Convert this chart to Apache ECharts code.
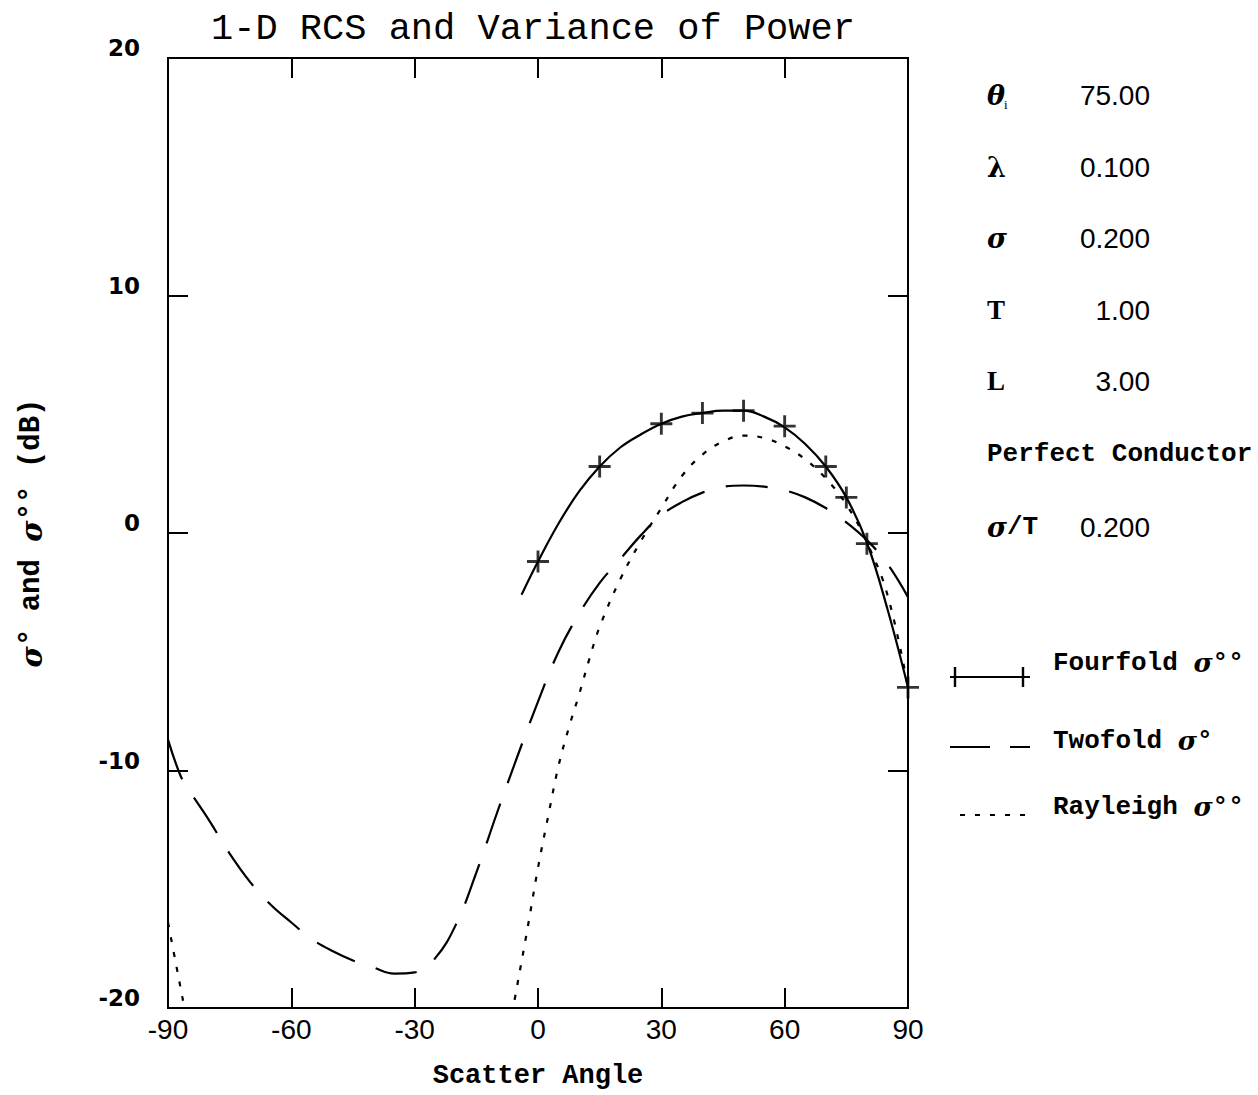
<!DOCTYPE html>
<html>
<head>
<meta charset="utf-8">
<script src="https://cdn.jsdelivr.net/npm/echarts@6/dist/echarts.min.js"></script>
<style>
html,body{margin:0;padding:0;background:#fff;}
#chart{width:1258px;height:1095px;}
</style>
</head>
<body>
<div id="chart"></div>
<script>
// ---- tick labels ----
const xTicks = [-90, -60, -30, 0, 30, 60, 90];
const yTicks = [-20, -10, 0, 10, 20];

// ---- series names ----
const seriesNames = ['Fourfold σ°°', 'Twofold σ°', 'Rayleigh σ°°'];

// ---- Fourfold sigma°° (solid line) ----
const angleFour = [-4, 0, 5, 10, 15, 20, 25, 30, 35, 40, 45, 50, 55, 60, 65, 70, 75, 80, 85, 90];
const fourfold  = [-2.6, -1.2, 0.4, 1.75, 2.8, 3.6, 4.15, 4.6, 4.9, 5.05, 5.15, 5.15, 4.9, 4.45, 3.75, 2.8, 1.5, -0.4, -3.2, -6.5];
// marker positions (+)
const angleFourMark = [0, 15, 30, 40, 50, 60, 70, 75, 80, 90];
const fourfoldMark  = [-1.2, 2.8, 4.6, 5.05, 5.15, 4.5, 2.8, 1.5, -0.45, -6.5];

// ---- Twofold sigma° (dashed line) ----
const angleTwo = [-90, -87, -85, -80, -75, -70, -65, -60, -55, -50, -45, -40, -35, -30, -25, -20, -15, -10, -5, 0, 5, 10, 15, 20, 25, 30, 35, 40, 45, 50, 55, 60, 65, 70, 75, 80, 85, 90];
const twofold  = [-8.7, -10.2, -10.8, -12.1, -13.5, -14.7, -15.65, -16.4, -17.1, -17.6, -18.0, -18.3, -18.55, -18.5, -17.9, -16.5, -14.3, -11.8, -9.4, -7.1, -5.0, -3.4, -2.1, -1.1, -0.1, 0.75, 1.3, 1.7, 1.95, 2.0, 1.95, 1.8, 1.5, 1.05, 0.45, -0.3, -1.3, -2.7];

// ---- Rayleigh sigma°° (dotted line), two visible pieces ----
const angleRayLeft = [-90, -88, -86, -85];
const rayleighLeft = [-16.4, -18.2, -20.0, -20.9];
const angleRay = [-7, -5, -2.5, 0, 2.5, 5, 7.5, 10, 12.5, 15, 20, 25, 30, 35, 40, 45, 50, 55, 60, 65, 70, 75, 80, 85, 90];
const rayleigh = [-20.9, -19.0, -16.6, -14.1, -11.9, -9.8, -8.2, -6.8, -5.3, -3.95, -1.95, -0.35, 1.05, 2.4, 3.3, 3.85, 4.1, 4.0, 3.65, 3.1, 2.3, 1.2, -0.4, -2.6, -6.5];

// ---- parameter panel ----
const paramLabels = ['θ', 'λ', 'σ', 'T', 'L'];
const paramValues = ['75.00', '0.100', '0.200', '1.00', '3.00'];
const materialText = 'Perfect Conductor';
const ratioLabel = 'σ/T';
const ratioValue = '0.200';

function pairs(xs, ys) { return xs.map((x, i) => [x, ys[i]]); }

const MONO = 'Liberation Mono';
const PLUS = 'path://M8.7,0H11.3V8.7H20V11.3H11.3V20H8.7V11.3H0V8.7H8.7Z';
const BOX = 'M0,0h0.1v0.1h-0.1Z M79.9,47.9h0.1v0.1h-0.1Z ';
const ICON_FOUR = 'path://' + BOX + 'M0,37H80V39H0Z M3.8,28H6.2V48H3.8Z M71.8,28H74.2V48H71.8Z';
const ICON_TWO = 'path://' + BOX + 'M0,29H40V31H0Z M60,29H80V31H60Z';
const ICON_RAY = 'path://' + BOX + 'M10,31H15V33H10Z M25,31H30V33H25Z M40,31H45V33H40Z M55,31H60V33H55Z M70,31H75V33H70Z';

const legendText = {
  fontFamily: MONO, fontSize: 26, fontWeight: 'bold', color: '#000', padding: [0, 0, 0, 18],
  rich: { g: { fontFamily: 'DejaVu Serif', fontStyle: 'italic', fontWeight: 'bold', fontSize: 26, color: '#000' } }
};
function legendFmt(name) { return name.replace('σ', '{g|σ}'); }
function mkLegend(i, icon, textCenterY) {
  return {
    data: [{ name: seriesNames[i], icon: icon }],
    left: 950, top: textCenterY - 24, padding: 0,
    itemWidth: 80, itemHeight: 48, selectedMode: false,
    textStyle: legendText, formatter: legendFmt
  };
}

const chart = echarts.init(document.getElementById('chart'), null, { renderer: 'svg' });

const axisCommon = {
  type: 'value',
  axisLine: { show: true, onZero: false, lineStyle: { color: '#000', width: 2 } },
  axisTick: { show: true, inside: true, length: 20, lineStyle: { color: '#000', width: 2 } },
  splitLine: { show: false }
};

const panelGraphics = [];
const panelY = [95, 167, 238, 310, 381];
paramLabels.forEach((lab, i) => {
  const greek = (lab === 'θ' || lab === 'σ');
  panelGraphics.push({
    type: 'text', x: 987, y: panelY[i],
    style: {
      text: lab, x: 0, y: 0, fill: '#000',
      font: (greek ? 'italic bold 27px "DejaVu Serif"' : (lab === 'λ' ? 'bold 27px "DejaVu Serif"' : 'bold 27px "Liberation Serif"')),
      align: 'left', verticalAlign: 'middle'
    }
  });
  panelGraphics.push({
    type: 'text', x: 1150, y: panelY[i],
    style: { text: paramValues[i], x: 0, y: 0, fill: '#000', font: '28px "Liberation Sans"', align: 'right', verticalAlign: 'middle' }
  });
});
panelGraphics.push({
  type: 'text', x: 1004, y: panelY[0] + 9,
  style: { text: 'i', x: 0, y: 0, fill: '#000', font: '13px "Liberation Serif"', align: 'left', verticalAlign: 'middle' }
});
panelGraphics.push({
  type: 'text', x: 987, y: 454,
  style: { text: materialText, x: 0, y: 0, fill: '#000', font: 'bold 26px "Liberation Mono"', align: 'left', verticalAlign: 'middle' }
});
panelGraphics.push({
  type: 'text', x: 987, y: 527,
  style: {
    text: '{g|σ}{m|/T}', x: 0, y: 0, fill: '#000', align: 'left', verticalAlign: 'middle',
    rich: {
      g: { fontFamily: 'DejaVu Serif', fontStyle: 'italic', fontWeight: 'bold', fontSize: 27, fill: '#000' },
      m: { fontFamily: MONO, fontWeight: 'bold', fontSize: 26, fill: '#000' }
    }
  }
});
panelGraphics.push({
  type: 'text', x: 1150, y: 527,
  style: { text: ratioValue, x: 0, y: 0, fill: '#000', font: '28px "Liberation Sans"', align: 'right', verticalAlign: 'middle' }
});

const option = {
  animation: false,
  backgroundColor: '#fff',
  title: {
    text: '1-D RCS and Variance of Power',
    left: 211, top: 10, padding: 0,
    textStyle: { fontFamily: MONO, fontSize: 37, fontWeight: 'normal', color: '#000' }
  },
  grid: { left: 168, right: 350, top: 58, bottom: 87, show: true, borderColor: '#000', borderWidth: 2, containLabel: false },
  xAxis: [
    Object.assign({}, axisCommon, {
      position: 'bottom',
      min: xTicks[0], max: xTicks[xTicks.length - 1], interval: xTicks[1] - xTicks[0],
      axisLabel: { show: true, margin: 7, color: '#000', fontFamily: 'Liberation Sans', fontSize: 28 },
      name: 'Scatter Angle', nameLocation: 'middle', nameGap: 54,
      nameTextStyle: { fontFamily: MONO, fontSize: 27, fontWeight: 'bold', color: '#000' }
    }),
    Object.assign({}, axisCommon, {
      position: 'top',
      min: xTicks[0], max: xTicks[xTicks.length - 1], interval: xTicks[1] - xTicks[0],
      axisLabel: { show: false }
    })
  ],
  yAxis: [
    Object.assign({}, axisCommon, {
      position: 'left',
      min: yTicks[0], max: yTicks[yTicks.length - 1], interval: yTicks[1] - yTicks[0],
      axisLabel: { show: true, margin: 28, color: '#000', fontFamily: 'DejaVu Sans', fontWeight: 'bold', fontSize: 23, verticalAlign: 'bottom', lineHeight: 20 },
      name: '{g|σ}° and {g|σ}°° (dB)', nameLocation: 'middle', nameGap: 122, nameRotate: 90,
      nameTextStyle: {
        fontFamily: MONO, fontSize: 29, fontWeight: 'bold', color: '#000',
        rich: { g: { fontFamily: 'DejaVu Serif', fontStyle: 'italic', fontWeight: 'bold', fontSize: 29, color: '#000' } }
      }
    }),
    Object.assign({}, axisCommon, {
      position: 'right',
      min: yTicks[0], max: yTicks[yTicks.length - 1], interval: yTicks[1] - yTicks[0],
      axisLabel: { show: false }
    })
  ],
  legend: [
    mkLegend(0, ICON_FOUR, 663),
    mkLegend(1, ICON_TWO, 741),
    mkLegend(2, ICON_RAY, 807)
  ],
  graphic: panelGraphics,
  series: [
    {
      name: seriesNames[0], type: 'line', data: pairs(angleFour, fourfold),
      smooth: 0.4, symbol: 'none', color: '#000',
      lineStyle: { color: '#000', width: 2.2, type: 'solid' }, z: 3
    },
    {
      name: seriesNames[0], type: 'scatter', data: pairs(angleFourMark, fourfoldMark),
      symbol: PLUS, symbolSize: 22, clip: false, color: '#000',
      itemStyle: { color: '#000' }, z: 4
    },
    {
      name: seriesNames[1], type: 'line', data: pairs(angleTwo, twofold),
      smooth: 0.4, symbol: 'none', color: '#000',
      lineStyle: { color: '#000', width: 2.2, type: [42, 22] }, z: 2
    },
    {
      name: seriesNames[2], type: 'line', data: pairs(angleRay, rayleigh),
      smooth: 0.4, symbol: 'none', color: '#000',
      lineStyle: { color: '#000', width: 2.2, type: [5, 10] }, z: 2
    },
    {
      name: seriesNames[2], type: 'line', data: pairs(angleRayLeft, rayleighLeft),
      smooth: 0.4, symbol: 'none', color: '#000',
      lineStyle: { color: '#000', width: 2.2, type: [5, 10] }, z: 2
    }
  ]
};
chart.setOption(option);
</script>
</body>
</html>
